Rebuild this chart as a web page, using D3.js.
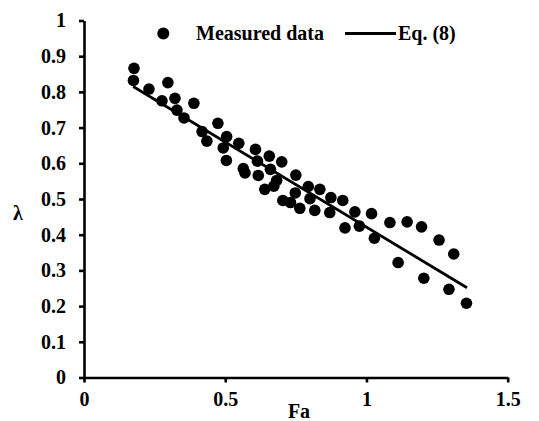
<!DOCTYPE html>
<html><head><meta charset="utf-8">
<script src="https://cdn.jsdelivr.net/npm/d3@7"></script>
<style>html,body{margin:0;padding:0;background:#fff;}svg{display:block;}</style>
</head><body>
<svg id="c" width="539" height="421"></svg>
<script>
const measuredFa = [0.177,0.175,0.230,0.297,0.276,0.322,0.329,0.389,0.354,0.474,0.418,0.435,0.505,0.493,0.548,0.504,0.564,0.570,0.607,0.614,0.656,0.700,0.660,0.617,0.682,0.672,0.640,0.750,0.748,0.794,0.835,0.704,0.731,0.800,0.764,0.817,0.874,0.916,0.870,0.959,0.924,0.975,1.018,1.028,1.083,1.144,1.195,1.257,1.309,1.112,1.203,1.292,1.354];
const measuredLambda = [0.866,0.832,0.808,0.826,0.775,0.782,0.749,0.768,0.727,0.712,0.689,0.662,0.675,0.643,0.656,0.608,0.585,0.573,0.639,0.606,0.620,0.604,0.583,0.566,0.552,0.536,0.527,0.567,0.517,0.535,0.527,0.496,0.490,0.501,0.474,0.468,0.504,0.496,0.462,0.464,0.419,0.424,0.459,0.390,0.434,0.436,0.422,0.385,0.346,0.322,0.278,0.247,0.208];
const eqFa = [0.174, 1.356];
const eqLambda = [0.815, 0.2515];
const xTicks = [0, 0.5, 1, 1.5];
const yTicks = [0,0.1,0.2,0.3,0.4,0.5,0.6,0.7,0.8,0.9,1];
const legendLabels = ["Measured data", "Eq. (8)"];

const svg = d3.select("#c");
const font = "'Liberation Serif','Times New Roman',serif";
const x = d3.scaleLinear().domain([0,1.5]).range([84,507.7]);
const y = d3.scaleLinear().domain([0,1]).range([377.5,20.5]);

const fmt = d => d3.format("")(d);
const xa = svg.append("g").attr("transform","translate(0,377.5)")
  .call(d3.axisBottom(x).tickValues(xTicks).tickSize(5).tickSizeOuter(0).tickPadding(9).tickFormat(fmt));
const ya = svg.append("g").attr("transform","translate(84,0)")
  .call(d3.axisLeft(y).tickValues(yTicks).tickSize(5).tickSizeOuter(0).tickPadding(13).tickFormat(fmt));
[xa,ya].forEach(a=>{
  a.select(".domain").attr("stroke","#000").attr("stroke-width",2.6);
  a.selectAll(".tick line").attr("stroke","#000").attr("stroke-width",2.6);
  a.selectAll(".tick text").attr("font-family",font).attr("font-weight","bold").attr("font-size",20).attr("fill","#000");
});

const pts = measuredFa.map((f,i)=>({f, l: measuredLambda[i]}));
svg.append("g").selectAll("circle").data(pts).join("circle")
  .attr("cx",d=>x(d.f)).attr("cy",d=>y(d.l)).attr("r",5.8).attr("fill","#000");

const line = d3.line().x(d=>x(d[0])).y(d=>y(d[1]));
svg.append("path").datum(eqFa.map((f,i)=>[f,eqLambda[i]]))
  .attr("d",line).attr("stroke","#000").attr("stroke-width",2.8).attr("fill","none");

// legend
const lg = svg.append("g");
lg.append("circle").attr("cx",163.3).attr("cy",33.5).attr("r",6).attr("fill","#000");
lg.append("text").attr("x",196).attr("y",40).text(legendLabels[0])
  .attr("font-family",font).attr("font-weight","bold").attr("font-size",20);
lg.append("line").attr("x1",345).attr("x2",396).attr("y1",33.5).attr("y2",33.5).attr("stroke","#000").attr("stroke-width",2.8);
lg.append("text").attr("x",398).attr("y",40).text(legendLabels[1])
  .attr("font-family",font).attr("font-weight","bold").attr("font-size",20);

// axis titles
svg.append("text").attr("x",299).attr("y",418).attr("text-anchor","middle").text("Fa")
  .attr("font-family",font).attr("font-weight","bold").attr("font-size",20);
svg.append("text").attr("x",18).attr("y",220).attr("text-anchor","middle").text("λ")
  .attr("font-family",font).attr("font-weight","bold").attr("font-size",20);
</script>
</body></html>
